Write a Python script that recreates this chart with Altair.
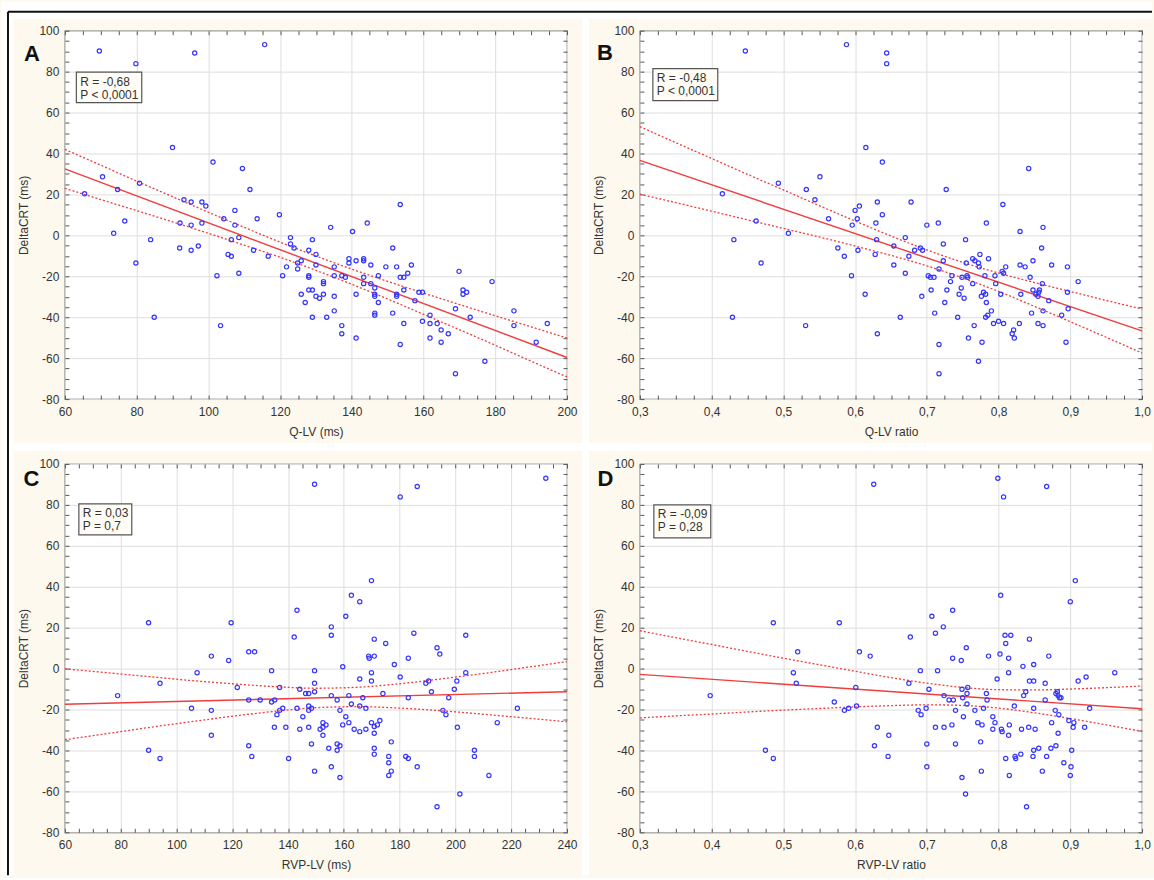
import altair as alt
import pandas as pd

FONT = "Liberation Sans"
CREAM = "#fdf9ee"
BLUE = "#3535ff"
RED = "#f03c3c"
TXT = "#333333"
GRID = "#dedede"
W, H = 503, 369

# ---------------- data ----------------
y_major = list(range(-80, 101, 20))
y_minor = list(range(-80, 101, 5))

# Panel A: Q-LV (ms) vs DeltaCRT (ms)
a_pts = [(69.6,90.1),(79.8,83.9),(96.2,89.1),(115.7,93.2),(90,42.9),(101.3,35.8),(109.5,32.7),(70.5,28.6),(80.8,25.5),(65.5,20.3),(74.7,22.4),(111.6,22.4),(93.2,17.4),(95.2,16.3),(98.2,16.3),(99.3,14.3),(107.4,12.2),(119.8,10.1),(104.3,8.1),(113.6,8.1),(76.7,7.0),(92.1,6.0),(98.2,6.0),(95.2,5.0),(107.4,5.0),(73.6,1.0),(83.9,-2.1),(106.4,-2.1),(108.5,-1.1),(92,-6.2),(95.2,-7.3),(97.2,-5.2),(79.8,-13.5),(105.5,-9.3),(106.4,-10.2),(112.6,-7.3),(116.7,-10.2),(102.4,-19.7),(108.5,-18.5),(84.9,-40),(103.4,-44.1),
         (122.9,-1.1),(122.9,-4.2),(123.9,-6.2),(129,-2.1),(128,-7.3),(130,-9.3),(125.9,-12.4),(124.9,-13.5),(121.8,-15.4),(124.9,-16.4),(120.7,-19.7),(130,-14.5),(128,-19.7),(128,-20.5),(132.1,-22.6),(132.1,-23.6),(128,-26.7),(129,-26.7),(125.9,-28.8),(127,-32.8),(130,-29.8),(131,-30.7),(132.1,-28.8),(135.1,-29.8),(129,-40),(133,-40),(135.1,-36.9),(134.1,3.9),(140.2,1.9),(144.3,6.0),(135.1,-15.4),(135.1,-19.7),(137.2,-19.7),(138.2,-20.5),(139.2,-11.4),(139.2,-13.5),(141.2,-12.4),(143.3,-11.4),(143.3,-12.4),(145.3,-14.5),(143.3,-20.5),(143.3,-23.6),(145.3,-23.6),(146.4,-25.7),(147.4,-19.7),(146.4,-28.8),(146.4,-29.8),(147.4,-32.8),(141.2,-28.8),(146.4,-38),(146.4,-39),(137.2,-44.1),(137.2,-48.1),(141.2,-50.2),
         (149.5,-15.4),(151.4,-6.2),(152.5,-15.4),(153.5,15.1),(153.5,-20.5),(154.5,-20.5),(155.6,-18.5),(156.6,-14.5),(152.5,-28.8),(152.5,-29.8),(154.5,-26.7),(157.6,-31.9),(158.7,-27.8),(159.7,-27.8),(151.4,-38),(154.5,-43.1),(153.5,-53.3),(159.7,-42),(161.8,-39),(161.8,-43.1),(163.8,-43.1),(164.9,-46.2),(161.8,-50.2),(164.9,-52.2),(166.9,-48.1),(168.9,-35.9),(169.9,-17.6),(171,-26.7),(171,-28.8),(172,-27.8),(173,-40),(168.9,-67.6),(177.1,-61.5),(179.1,-22.6),(185.2,-36.9),(185.2,-44.1),(191.4,-52.2),(194.5,-43.1)]
a_line_x = [60, 200]
a_line_y = [32.5, -59.7]
a_ci_x = [60, 70, 80, 90, 100, 110, 120, 130, 140, 150, 160, 170, 180, 190, 200]
a_ci_up = [42.0, 34.3, 26.5, 18.9, 11.3, 3.9, -3.3, -10.1, -16.5, -22.5, -28.2, -33.8, -39.3, -44.7, -50.2]
a_ci_lo = [23.0, 17.5, 12.1, 6.6, 1.0, -4.8, -10.7, -17.1, -23.9, -31.1, -38.6, -46.1, -53.7, -61.5, -69.2]

# Panel B: Q-LV ratio vs DeltaCRT (ms)
b_pts = [(0.447,90.1),(0.588,93.2),(0.644,89.1),(0.644,83.9),(0.615,42.9),(0.638,35.8),(0.842,32.7),(0.493,25.5),(0.551,28.6),(0.532,22.4),(0.727,22.4),(0.415,20.3),(0.544,17.4),(0.631,16.3),(0.678,16.3),(0.806,15.1),(0.606,14.3),(0.600,12.2),(0.638,10.1),(0.563,8.1),(0.603,8.1),(0.462,7.0),(0.596,5.0),(0.629,6.0),(0.700,5.0),(0.716,6.0),(0.783,6.0),(0.507,1.0),(0.830,1.9),(0.862,3.9),(0.431,-2.1),(0.630,-2.1),(0.670,-1.1),(0.723,-4.2),(0.754,-2.1),(0.576,-6.2),(0.604,-7.3),(0.654,-5.2),(0.683,-7.3),(0.691,-6.2),(0.694,-7.3),(0.860,-6.2),(0.469,-13.5),(0.585,-10.2),(0.628,-9.3),(0.675,-10.2),(0.654,-14.5),(0.670,-18.5),(0.595,-19.7),(0.723,-12.4),(0.717,-16.4),(0.755,-13.5),(0.764,-11.4),(0.767,-12.4),(0.772,-13.5),(0.773,-15.4),(0.774,-9.3),(0.786,-11.4),(0.805,-17.6),(0.807,-18.5),(0.810,-15.4),(0.830,-14.5),(0.837,-15.4),(0.848,-12.4),(0.874,-14.5),(0.896,-15.4),
         (0.702,-19.7),(0.705,-20.5),(0.710,-20.5),(0.735,-19.7),(0.749,-20.5),(0.756,-19.7),(0.757,-20.5),(0.781,-19.7),(0.795,-19.7),(0.844,-20.5),(0.733,-22.6),(0.764,-23.6),(0.796,-23.6),(0.861,-23.6),(0.911,-22.6),(0.706,-26.7),(0.728,-26.7),(0.748,-25.7),(0.848,-26.7),(0.857,-26.7),(0.856,-27.8),(0.896,-27.8),(0.779,-27.8),(0.693,-29.8),(0.745,-28.8),(0.776,-29.8),(0.782,-28.8),(0.803,-28.8),(0.831,-28.8),(0.852,-28.8),(0.855,-29.8),(0.752,-30.7),(0.725,-32.8),(0.783,-32.8),(0.870,-31.9),(0.897,-35.9),(0.614,-28.8),(0.711,-38.0),(0.790,-36.9),(0.846,-38.0),(0.862,-36.9),(0.785,-39.0),(0.782,-40.0),(0.888,-39.0),(0.663,-40.0),(0.743,-40.0),(0.766,-44.1),(0.429,-40.0),(0.531,-44.1),(0.631,-48.1),(0.793,-43.1),(0.800,-42.0),(0.807,-43.1),(0.829,-43.1),(0.855,-43.1),(0.862,-44.1),(0.821,-46.2),(0.819,-48.1),(0.822,-50.2),(0.758,-50.2),(0.777,-52.2),(0.717,-53.3),(0.894,-52.2),(0.772,-61.5),(0.717,-67.6)]
b_line_x = [0.3, 1.0]
b_line_y = [36.6, -46.7]
b_ci_x = [0.30, 0.35, 0.40, 0.45, 0.50, 0.55, 0.60, 0.65, 0.70, 0.75, 0.80, 0.85, 0.90, 0.95, 1.00]
b_ci_up = [53.1, 45.3, 37.6, 29.8, 22.2, 14.5, 7.0, -0.3, -7.1, -13.2, -18.4, -23.1, -27.4, -31.8, -36.0]
b_ci_lo = [20.1, 16.0, 11.8, 7.6, 3.4, -0.8, -5.2, -9.8, -14.9, -20.8, -27.4, -34.7, -42.2, -49.8, -57.5]

# Panel C: RVP-LV (ms) vs DeltaCRT (ms)
c_pts = [(149.5,90.1),(180.2,83.9),(186.3,89.0),(232.4,93.0),(169.9,43.0),(162.7,35.8),(165.7,32.7),(143.2,28.5),(160.7,25.6),(90.0,22.4),(119.6,22.4),(155.5,20.4),(155.5,16.3),(185.1,17.3),(203.7,16.3),(142.2,15.4),(170.9,14.4),(175.0,12.3),(193.4,10.2),(194.4,7.1),(125.9,8.2),(128.0,8.2),(112.5,6.1),(118.7,4.0),(168.9,6.1),(169.1,5.1),(170.9,6.1),(183.1,5.1),(178.1,2.0),(159.6,0.9),(134.1,-1.0),(149.5,-1.0),(169.9,-2.0),(203.7,-2.0),(107.4,-2.0),(165.7,-5.1),(180.2,-4.1),(169.9,-6.1),(190.4,-6.1),(200.5,-6.1),(189.4,-7.2),(94.1,-7.2),(149.5,-7.2),(121.8,-9.2),(137.0,-9.2),(144.2,-10.1),(199.6,-10.1),(149.5,-11.3),(191.4,-11.3),(146.3,-12.2),(147.4,-12.2),(174.0,-12.2),(78.9,-13.2),(155.5,-13.2),(161.8,-13.2),(166.8,-14.2),(183.1,-14.2),(197.6,-14.2),(125.9,-15.3),(130.0,-15.3),(135.2,-15.3),(134.1,-16.3),(157.6,-15.3),(162.7,-17.3),(165.7,-18.3),(147.4,-18.3),
         (105.4,-19.4),(143.2,-19.4),(138.1,-19.4),(148.4,-19.4),(167.9,-19.4),(222.2,-19.4),(112.5,-20.4),(137.0,-20.4),(147.4,-20.4),(158.6,-20.4),(195.5,-20.4),(136.0,-22.5),(196.6,-22.5),(160.7,-23.5),(145.3,-23.5),(152.5,-26.4),(161.8,-26.4),(169.9,-26.4),(172.9,-25.4),(153.6,-27.5),(172.0,-27.5),(159.6,-27.5),(152.5,-28.7),(170.9,-28.3),(200.7,-28.7),(215.0,-26.4),(135.1,-28.7),(139.2,-28.7),(147.4,-28.7),(151.5,-29.6),(163.7,-29.6),(167.9,-29.6),(144.2,-29.6),(165.7,-30.8),(170.9,-31.6),(112.5,-32.6),(152.5,-32.6),(177.0,-35.8),(148.4,-36.8),(157.6,-36.8),(125.9,-37.7),(158.6,-37.7),(154.6,-38.9),(170.9,-38.9),(90.0,-39.9),(157.6,-39.9),(206.8,-39.9),(170.9,-41.8),(127.0,-42.9),(176.1,-42.9),(182.2,-42.9),(206.8,-42.9),(94.1,-43.9),(140.2,-43.9),(183.1,-43.9),(176.1,-46.0),(155.5,-48.0),(186.3,-48.0),(149.5,-50.1),(177.0,-50.1),(176.1,-52.2),(212.0,-52.2),(158.6,-53.2),(201.6,-61.3),(193.4,-67.5)]
c_line_x = [60, 240]
c_line_y = [-17.4, -11.3]
c_ci_x = [60, 75, 90, 105, 120, 135, 150, 165, 180, 195, 210, 225, 240]
c_ci_up = [-0.1, -2.0, -3.9, -5.8, -7.4, -8.8, -9.6, -9.1, -7.4, -5.0, -2.4, 0.5, 3.4]
c_ci_lo = [-34.7, -31.8, -28.8, -26.0, -23.3, -20.9, -19.1, -18.6, -19.3, -20.6, -22.3, -24.1, -26.0]

# Panel D: RVP-LV ratio vs DeltaCRT (ms)
d_pts = [(0.626,90.1),(0.799,93.0),(0.807,83.9),(0.867,89.0),(0.907,43.0),(0.803,35.8),(0.900,32.7),(0.736,28.5),(0.707,25.6),(0.486,22.4),(0.578,22.4),(0.723,20.4),(0.712,17.3),(0.809,16.3),(0.817,16.3),(0.677,15.4),(0.843,14.4),(0.810,12.3),(0.755,10.2),(0.802,7.1),(0.520,8.2),(0.606,8.2),(0.621,6.1),(0.786,6.1),(0.870,6.1),(0.736,5.1),(0.814,5.1),(0.748,4.0),(0.849,2.0),(0.834,1.1),(0.691,-1.0),(0.715,-1.0),(0.514,-2.0),(0.814,-2.0),(0.962,-2.0),(0.798,-5.1),(0.922,-4.1),(0.843,-6.1),(0.849,-6.1),(0.911,-6.1),(0.518,-7.2),(0.675,-7.2),(0.865,-7.2),(0.601,-9.2),(0.757,-9.2),(0.703,-10.1),(0.749,-10.1),(0.838,-11.3),(0.882,-11.3),(0.756,-12.2),(0.783,-12.2),(0.880,-12.2),(0.398,-13.2),(0.724,-13.2),(0.835,-13.2),(0.883,-13.2),(0.750,-14.2),(0.885,-14.2),(0.887,-14.2),(0.731,-15.3),(0.737,-15.3),(0.784,-15.3),(0.865,-15.3),(0.571,-16.3),(0.756,-17.3),(0.602,-18.3),(0.822,-18.3),
         (0.591,-19.4),(0.699,-19.4),(0.779,-19.4),(0.849,-19.4),(0.927,-19.4),(0.585,-20.4),(0.688,-20.4),(0.740,-20.4),(0.767,-20.4),(0.879,-20.4),(0.692,-22.5),(0.884,-22.5),(0.751,-23.5),(0.792,-23.5),(0.898,-25.4),(0.771,-26.4),(0.795,-26.4),(0.874,-26.4),(0.905,-26.4),(0.735,-27.5),(0.777,-27.5),(0.815,-27.5),(0.631,-28.7),(0.712,-28.7),(0.724,-28.7),(0.842,-28.7),(0.904,-28.7),(0.920,-28.7),(0.792,-29.6),(0.804,-29.6),(0.832,-29.6),(0.851,-29.6),(0.805,-30.8),(0.883,-31.6),(0.647,-32.6),(0.814,-32.6),(0.775,-35.8),(0.700,-36.8),(0.740,-36.8),(0.627,-37.7),(0.880,-37.7),(0.856,-38.9),(0.873,-38.9),(0.475,-39.9),(0.849,-39.9),(0.902,-39.9),(0.646,-42.9),(0.823,-42.9),(0.831,-41.8),(0.848,-42.9),(0.867,-42.9),(0.486,-43.9),(0.810,-43.9),(0.824,-43.9),(0.891,-46.0),(0.700,-48.0),(0.901,-48.0),(0.776,-50.1),(0.861,-50.1),(0.815,-52.2),(0.900,-52.2),(0.749,-53.2),(0.754,-61.3),(0.839,-67.5)]
d_line_x = [0.3, 1.0]
d_line_y = [-2.8, -19.6]
d_ci_x = [0.30, 0.35, 0.40, 0.45, 0.50, 0.55, 0.60, 0.65, 0.70, 0.75, 0.80, 0.85, 0.90, 0.95, 1.00]
d_ci_up = [18.5, 15.1, 11.8, 8.4, 5.1, 1.9, -1.3, -4.4, -7.1, -9.2, -10.3, -10.4, -10.0, -9.3, -8.5]
d_ci_lo = [-24.1, -23.1, -22.2, -21.2, -20.3, -19.5, -18.7, -18.1, -17.7, -18.0, -19.3, -21.6, -24.4, -27.5, -30.7]

ms_major = list(range(60, 201, 20))
ms_minor = list(range(60, 201, 5))
ms2_major = list(range(60, 241, 20))
ms2_minor = list(range(60, 241, 5))
ratio_major = [round(0.3 + 0.1 * i, 2) for i in range(8)]
ratio_minor = [round(0.3 + 0.025 * i, 3) for i in range(29)]

one = pd.DataFrame({"k": [0]})

INT_EXPR = "'' + datum.value"
DEC_EXPR = "replace(format(datum.value, '.1f'), '.', ',')"


def vrect(x, x2, y, y2, **kw):
    return alt.Chart(one).mark_rect(**kw).encode(
        x=alt.value(x), x2=alt.value(x2), y=alt.value(y), y2=alt.value(y2))


def vrule(x, x2, y, y2, color, width):
    return alt.Chart(one).mark_rule(color=color, strokeWidth=width).encode(
        x=alt.value(x), x2=alt.value(x2), y=alt.value(y), y2=alt.value(y2))


def vtext(x, y, text, size, weight="normal", color=TXT, align="left"):
    return alt.Chart(one).mark_text(
        text=text, font=FONT, fontSize=size, fontWeight=weight, color=color,
        align=align, baseline="alphabetic").encode(x=alt.value(x), y=alt.value(y))


def minor_axis(orient, values):
    return alt.Axis(orient=orient, values=values, labels=False, grid=False,
                    domain=False, ticks=True, tickSize=4, tickColor="#555555",
                    tickWidth=1, offset=-4, title=None)


def panel(pts, line_x, line_y, ci_x, ci_up, ci_lo, xdom, xmajor, xminor,
          xexpr, xtitle, letter, letter_xy, stats, box, extra=None):
    xs = alt.Scale(domain=xdom, nice=False, zero=False)
    ys = alt.Scale(domain=[-80, 100], nice=False, zero=False)
    pdf = pd.DataFrame(pts, columns=["x", "y"])
    ldf = pd.DataFrame({"x": line_x, "y": line_y})
    cdf = pd.DataFrame({"x": ci_x, "up": ci_up, "lo": ci_lo})

    main_x = alt.Axis(values=xmajor, grid=True, gridColor=GRID, gridWidth=1,
                      domain=False, ticks=False, tickSize=0, labelExpr=xexpr,
                      labelPadding=7, labelFlush=False, labelOverlap=False,
                      title=xtitle, titlePadding=9)
    main_y = alt.Axis(values=y_major, grid=True, gridColor=GRID, gridWidth=1,
                      domain=False, ticks=False, tickSize=0, labelExpr=INT_EXPR,
                      labelPadding=6, labelOverlap=False,
                      title="DeltaCRT (ms)", titlePadding=8)

    ci_up_l = alt.Chart(cdf).mark_line(
        color=RED, strokeWidth=1.3, strokeDash=[2, 2], interpolate="monotone").encode(
        x=alt.X("x:Q", scale=xs, axis=minor_axis("bottom", xminor)),
        y=alt.Y("up:Q", scale=ys, axis=minor_axis("left", y_minor)))
    ci_lo_l = alt.Chart(cdf).mark_line(
        color=RED, strokeWidth=1.3, strokeDash=[2, 2], interpolate="monotone").encode(
        x=alt.X("x:Q", scale=xs, axis=minor_axis("top", xminor)),
        y=alt.Y("lo:Q", scale=ys, axis=minor_axis("right", y_minor)))
    reg = alt.Chart(ldf).mark_line(color=RED, strokeWidth=1.4).encode(
        x=alt.X("x:Q", scale=xs, axis=None),
        y=alt.Y("y:Q", scale=ys, axis=None))
    points = alt.Chart(pdf).mark_point(
        shape="circle", filled=False, size=18, strokeWidth=1.2,
        color=BLUE, opacity=1).encode(
        x=alt.X("x:Q", scale=xs, axis=main_x),
        y=alt.Y("y:Q", scale=ys, axis=main_y))

    bx1, bx2, by1, by2 = box
    layers = list(extra or [])
    layers += [
        ci_up_l, ci_lo_l, reg, points,
        vrect(bx1, bx2, by1, by2, fill="#fefcf4", stroke="#555555", strokeWidth=1.2),
        vtext(bx1 + 4, by1 + 13.5, stats[0], 12),
        vtext(bx1 + 4, by1 + 26.5, stats[1], 12),
        vtext(letter_xy[0], letter_xy[1], letter, 22, weight="bold", color="#111111", align="center"),
    ]
    return alt.layer(*layers).resolve_axis(x="independent", y="independent").properties(
        width=W, height=H)


# page decoration (gutters and outer frame), placed relative to panel A's plot origin
deco = [
    vrect(-64, 1089, -29, -12, fill="white"),
    vrect(-64, -51, -29, 846, fill="white"),
    vrect(518, 525, -29, 846, fill="white"),
    vrect(-64, 1089, 413, 421, fill="white"),
    vrule(-57, 1089, -19, -19, "#111111", 2),
    vrule(-57, -57, -19, 846, "#111111", 2),
]

pA = panel(a_pts, a_line_x, a_line_y, a_ci_x, a_ci_up, a_ci_lo, [60, 200],
           ms_major, ms_minor, INT_EXPR, "Q-LV (ms)", "A", (-33, 30),
           ("R = -0,68", "P < 0,0001"), (11.5, 77, 41.5, 72), extra=deco)
pB = panel(b_pts, b_line_x, b_line_y, b_ci_x, b_ci_up, b_ci_lo, [0.3, 1.0],
           ratio_major, ratio_minor, DEC_EXPR, "Q-LV ratio", "B", (-35, 29),
           ("R = -0,48", "P < 0,0001"), (13, 78, 38, 70))
pC = panel(c_pts, c_line_x, c_line_y, c_ci_x, c_ci_up, c_ci_lo, [60, 240],
           ms2_major, ms2_minor, INT_EXPR, "RVP-LV (ms)", "C", (-33.5, 22),
           ("R = 0,03", "P = 0,7"), (14, 67, 40, 71))
pD = panel(d_pts, d_line_x, d_line_y, d_ci_x, d_ci_up, d_ci_lo, [0.3, 1.0],
           ratio_major, ratio_minor, DEC_EXPR, "RVP-LV ratio", "D", (-34.5, 22),
           ("R = -0,09", "P = 0,28"), (14, 71, 41, 74))

chart = alt.concat(pA, pB, pC, pD, columns=2, spacing={"row": 65, "column": 73},
                   bounds="flush").properties(
    padding=0, background=CREAM
).configure_view(
    fill="white", stroke="#555555", strokeWidth=1.2
).configure_axis(
    labelFont=FONT, titleFont=FONT, labelFontSize=12, titleFontSize=12,
    labelColor=TXT, titleColor=TXT, titleFontWeight="normal"
)

chart.save("out.html", embed_options={"renderer": "svg", "actions": False})
